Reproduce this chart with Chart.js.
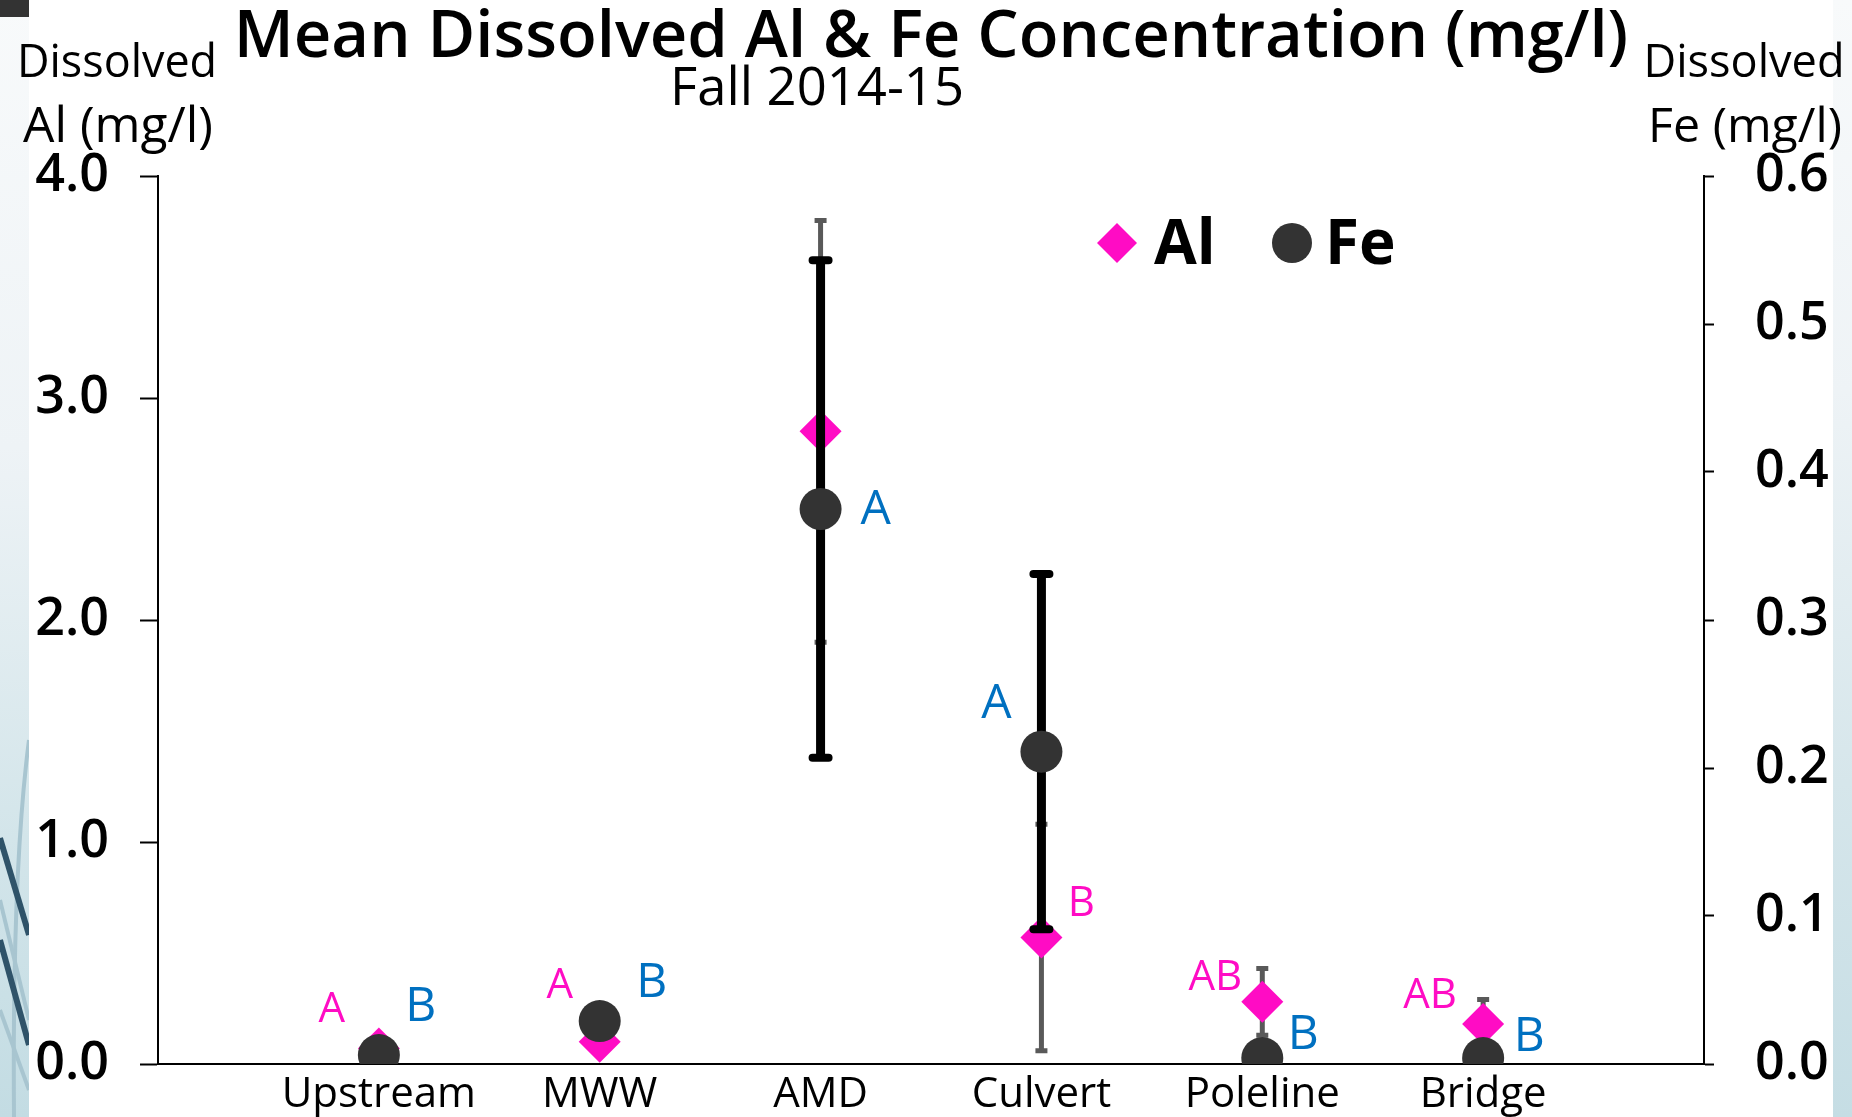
<!doctype html>
<html lang="en">
<head>
  <meta charset="utf-8">
  <title>Mean Dissolved Al &amp; Fe Concentration</title>
  <script src="https://cdn.jsdelivr.net/npm/chart.js@4"></script>
  <style>
    html, body { margin: 0; padding: 0; background: #fff; }
    #wrap { position: relative; width: 1852px; height: 1117px; overflow: hidden; }
    #stripL { position: absolute; left: 0; top: 0; width: 29px; height: 1117px;
              background: linear-gradient(#f8fafb, #eef3f6 40%, #d3e5ea 75%, #c3dce3); }
    #stripR { position: absolute; right: 0; top: 0; width: 19px; height: 1117px;
              background: linear-gradient(#f8fafb, #eef3f6 35%, #d6e6eb 70%, #c5dde4); }
    #corner { position: absolute; left: 0; top: 0; width: 29px; height: 17px; background: #333; }
    #deco { position: absolute; left: 0; top: 0; }
    #chartBox { position: absolute; left: 0; top: 0; width: 1852px; height: 1117px; }
  </style>
</head>
<body>
<div id="wrap">
  <div id="stripL"></div>
  <div id="stripR"></div>
  <div id="corner"></div>
  <svg id="deco" width="29" height="1117">
    <g stroke="#a8c5d0" stroke-width="4" fill="none">
      <path d="M29 740 Q12 870 14 1117"/>
      <path d="M0 900 L29 1020"/>
      <path d="M0 1010 L29 1090"/>
    </g>
    <g stroke="#2f5369" stroke-width="6" fill="none">
      <path d="M0 838 L29 935"/>
      <path d="M0 940 L29 1045"/>
    </g>
  </svg>
  <div id="chartBox"><canvas id="chart"></canvas></div>
</div>

<script>
  // Sites (categories) and values
  const categories = ['Upstream', 'MWW', 'AMD', 'Culvert', 'Poleline', 'Bridge'];

  // Dissolved Al, left axis (mg/l)
  const alMean = [0.07, 0.10, 2.85, 0.57, 0.28, 0.18];
  const alErr  = [0.02, 0.00, 0.95, 0.51, 0.15, 0.11];
  const alLetters = ['A', 'A', '', 'B', 'AB', 'AB'];

  // Dissolved Fe, right axis (mg/l)
  const feMean = [0.006, 0.029, 0.375, 0.211, 0.004, 0.004];
  const feErr  = [0.000, 0.000, 0.168, 0.120, 0.000, 0.000];
  const feLetters = ['B', 'B', 'A', 'A', 'B', 'B'];

  const alTicks = [0, 1, 2, 3, 4];
  const feTicks = [0, 0.1, 0.2, 0.3, 0.4, 0.5, 0.6];

  const AL_COLOR = '#ff0cc4';
  const FE_COLOR = '#333333';
  const FE_TEXT = '#0070c0';
  const FONT = '"Open Sans", "Noto Sans", sans-serif';

  function points(vals) {
    return vals.map(function(v, i) { return { x: i + 1, y: v }; });
  }

  // draw text centred at cx, scaled so it spans the given width
  function fillFit(ctx, text, cx, cy, width, weight) {
    ctx.font = weight + ' 100px ' + FONT;
    const size = 100 * width / ctx.measureText(text).width;
    ctx.font = weight + ' ' + size.toFixed(1) + 'px ' + FONT;
    ctx.fillText(text, cx, cy);
  }

  // error bars drawn right before each dataset so the markers sit on top
  const errorBars = {
    id: 'errorBars',
    beforeDatasetDraw(chart, args, opts) {
      const ds = chart.data.datasets[args.index];
      const st = opts[ds.label];
      if (!st) return;
      const yScale = chart.scales[ds.yAxisID];
      const ctx = chart.ctx;
      ctx.save();
      ctx.strokeStyle = st.color;
      args.meta.data.forEach(function(pt, i) {
        const e = ds.errors[i];
        if (!e) return;
        const v = ds.data[i].y;
        const top = yScale.getPixelForValue(v + e);
        const bot = yScale.getPixelForValue(v - e);
        ctx.lineCap = 'butt';
        ctx.lineWidth = st.width;
        ctx.beginPath();
        ctx.moveTo(pt.x, top);
        ctx.lineTo(pt.x, bot);
        ctx.stroke();
        ctx.lineCap = st.capStyle;
        ctx.lineWidth = st.capWidth;
        ctx.beginPath();
        ctx.moveTo(pt.x - st.capHalf, top);
        ctx.lineTo(pt.x + st.capHalf, top);
        ctx.moveTo(pt.x - st.capHalf, bot);
        ctx.lineTo(pt.x + st.capHalf, bot);
        ctx.stroke();
      });
      ctx.restore();
    }
  };

  // significance letters next to each marker
  const letterLabels = {
    id: 'letterLabels',
    afterDatasetsDraw(chart, args, opts) {
      const ctx = chart.ctx;
      ctx.save();
      ctx.textAlign = 'center';
      ctx.textBaseline = 'middle';
      chart.data.datasets.forEach(function(ds, di) {
        const st = opts[ds.label];
        const meta = chart.getDatasetMeta(di);
        ctx.fillStyle = st.color;
        ctx.font = st.size + 'px ' + FONT;
        meta.data.forEach(function(pt, i) {
          const txt = ds.letters[i];
          if (!txt) return;
          const off = st.offsets[i];
          ctx.fillText(txt, pt.x + off[0], pt.y + off[1]);
        });
      });
      ctx.restore();
    }
  };

  // titles, axis titles and legend
  const decorations = {
    id: 'decorations',
    afterDraw(chart) {
      const ctx = chart.ctx;
      ctx.save();
      ctx.fillStyle = '#000';
      ctx.textBaseline = 'middle';
      ctx.textAlign = 'center';
      fillFit(ctx, 'Mean Dissolved Al & Fe Concentration (mg/l)', 931, 38, 1394, '600');
      fillFit(ctx, 'Fall 2014-15', 817, 90, 294, '400');

      fillFit(ctx, 'Dissolved', 117, 64, 200, '400');
      fillFit(ctx, 'Al (mg/l)', 118, 128, 190, '400');
      fillFit(ctx, 'Dissolved', 1744, 64, 201, '400');
      fillFit(ctx, 'Fe (mg/l)', 1745, 128, 194, '400');

      // legend
      const ds = chart.data.datasets;
      const items = [[ds[0], 1117, 1154], [ds[1], 1292, 1325]];
      items.forEach(function(it) {
        ctx.fillStyle = it[0].backgroundColor;
        ctx.strokeStyle = it[0].backgroundColor;
        Chart.helpers.drawPoint(ctx, { pointStyle: it[0].pointStyle, radius: 20, rotation: 0, borderWidth: 0 }, it[1], 243);
        ctx.fillStyle = '#000';
        ctx.textAlign = 'left';
        ctx.font = 'bold 62px ' + FONT;
        ctx.fillText(it[0].label, it[2], 246);
      });
      ctx.restore();
    }
  };

  const tickFmt = function(v) { return Number(v).toFixed(1); };

  new Chart(document.getElementById('chart'), {
    type: 'scatter',
    data: {
      datasets: [{
        label: 'Al',
        data: points(alMean),
        errors: alErr,
        letters: alLetters,
        yAxisID: 'y',
        pointStyle: 'rectRot',
        pointRadius: 21,
        pointHoverRadius: 21,
        borderWidth: 0,
        backgroundColor: AL_COLOR,
        borderColor: AL_COLOR,
        order: 2
      }, {
        label: 'Fe',
        data: points(feMean),
        errors: feErr,
        letters: feLetters,
        yAxisID: 'y1',
        pointStyle: 'circle',
        pointRadius: 21,
        pointHoverRadius: 21,
        borderWidth: 0,
        backgroundColor: FE_COLOR,
        borderColor: FE_COLOR,
        order: 1
      }]
    },
    options: {
      responsive: true,
      maintainAspectRatio: false,
      animation: false,
      events: [],
      layout: { padding: { top: 176, left: 0, right: 0, bottom: 0 } },
      plugins: {
        legend: { display: false },
        title: { display: false },
        tooltip: { enabled: false },
        errorBars: {
          Al: { color: '#595959', width: 5, capWidth: 5, capHalf: 6, capStyle: 'butt' },
          Fe: { color: '#000000', width: 9, capWidth: 8, capHalf: 8, capStyle: 'round' }
        },
        letterLabels: {
          Al: { color: AL_COLOR, size: 42,
                offsets: [[-47, -38], [-40, -56], [0, 0], [40, -33], [-47, -24], [-53, -28]] },
          Fe: { color: FE_TEXT, size: 48,
                offsets: [[42, -48], [52, -38], [55, 1], [-45, -47], [41, -23], [46, -21]] }
        }
      },
      scales: {
        x: {
          type: 'linear',
          min: 0,
          max: categories.length + 1,
          afterFit: function(s) { s.height = 53; },
          afterBuildTicks: function(s) {
            s.ticks = categories.map(function(c, i) { return { value: i + 1 }; });
          },
          ticks: {
            autoSkip: false,
            maxRotation: 0,
            padding: 6,
            color: '#000',
            font: { family: FONT, size: 42 },
            callback: function(v) { return categories[v - 1] || ''; }
          },
          grid: { display: false, drawTicks: false },
          border: { display: true, color: '#000', width: 2 }
        },
        y: {
          position: 'left',
          min: 0,
          max: 4,
          afterFit: function(s) { s.width = 158; s.paddingTop = 0; s.paddingBottom = 0; },
          afterBuildTicks: function(s) {
            s.ticks = alTicks.map(function(v) { return { value: v }; });
          },
          ticks: {
            padding: 31,
            color: '#000',
            font: { family: FONT, size: 52, weight: '600' },
            callback: tickFmt
          },
          grid: { drawOnChartArea: false, drawTicks: true, tickLength: 18, tickColor: '#000', tickWidth: 2 },
          border: { display: true, color: '#000', width: 2 }
        },
        y1: {
          position: 'right',
          min: 0,
          max: 0.6,
          afterFit: function(s) { s.width = 148; s.paddingTop = 0; s.paddingBottom = 0; },
          afterBuildTicks: function(s) {
            s.ticks = feTicks.map(function(v) { return { value: v }; });
          },
          ticks: {
            padding: 41,
            color: '#000',
            font: { family: FONT, size: 52, weight: '600' },
            callback: tickFmt
          },
          grid: { drawOnChartArea: false, drawTicks: true, tickLength: 10, tickColor: '#000', tickWidth: 2 },
          border: { display: true, color: '#000', width: 2 }
        }
      }
    },
    plugins: [errorBars, letterLabels, decorations]
  });
</script>
</body>
</html>
